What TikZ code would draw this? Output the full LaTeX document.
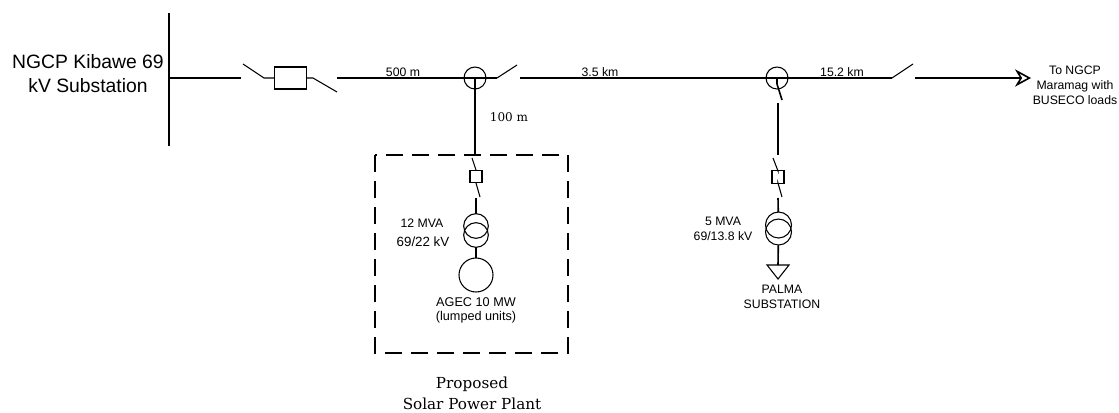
\documentclass[tikz,border=0pt]{standalone}
\usepackage{fontspec}
\setmainfont{Liberation Sans}
\newfontfamily\plantfont{DejaVu Serif}
\usetikzlibrary{arrows.meta}
\begin{document}
\begin{tikzpicture}[x=0.75pt,y=-0.75pt,line width=0.8pt,
      every node/.style={inner sep=0pt,outer sep=0pt,align=center,font=\fontsize{9.2}{11}\selectfont},
      >={Stealth[open,width=13pt,length=12pt]},
      feeder/.style={line width=1.2pt},
      junction/.style={circle,draw,minimum size=16.5pt},
      breaker/.style={rectangle,draw,minimum width=9pt,minimum height=9.5pt},
      winding/.style={circle,draw,minimum size=18.5pt},
      biglabel/.style={font=\fontsize{14.5}{18}\selectfont},
      seriflabel/.style={font=\plantfont\fontsize{11.4}{15.8}\selectfont}]
  \useasboundingbox(0,0)rectangle(1119,412);
  % points along the feeder
  \foreach \x/\y/\name in {169/13/busT,169/146/busB,169/78/busTap,241/78/lineAend,
      243/64/swAopen,264/78/swAhinge,313/78/swBhinge,337/92/swBopen,337/78/lineBstart,
      497/78/swChinge,517/65/swCopen,520/78/lineCstart,892/78/swDhinge,913/64/swDopen,
      915/78/arrowStart,1031/78/arrowEnd,
      475/155/stubAend,472/158/swEopen,476/170/swEhinge,476/183/swFhinge,480/197/swFopen,
      476/198/trfAin,476/245/trfAout,
      777/84/stubBend,782/100/swGopen,778/103/lineGstart,778/155/lineGend,
      773/158/swHopen,778/171/swHhinge,778/183/swIhinge,782/197/swIopen,
      778/198/trfBin,778/245/trfBout,778/265/loadIn,
      375/155/plantNW,568/353/plantSE}
    \coordinate(\name)at(\x,\y);
  % main bus and feeder
  \draw[line width=1.1pt](busT)--(busB);
  \node[rectangle,draw,minimum width=23.5pt,minimum height=16.5pt](fuseA)at(290.5,78){};
  \node[junction](tapA)at(475,78){};
  \node[junction](tapB)at(777,78){};
  \draw[feeder](busTap)--(lineAend);
  \draw(swAopen)--(swAhinge)--(fuseA);
  \draw(fuseA)--(swBhinge)--(swBopen);
  \draw[feeder](lineBstart)--(tapA.center)--(swChinge);
  \draw(swChinge)--(swCopen);
  \draw[feeder](lineCstart)--(tapB.center)--(swDhinge);
  \draw(swDhinge)--(swDopen);
  \draw[feeder,->](arrowStart)--(arrowEnd);
  % solar plant branch
  \node[breaker](brkA)at(476,176.5){};
  \node[winding](trfAhi)at(476,226){};
  \node[winding](trfAlo)at(476,235){};
  \node[circle,draw,minimum size=25.5pt](genA)at(476,275){};
  \draw[feeder](tapA.center)--(stubAend);
  \draw(swEopen)--(swEhinge)--(brkA);
  \draw(brkA)--(swFhinge)--(swFopen);
  \draw[feeder](trfAin)--(trfAhi);
  \draw[feeder](trfAlo)--(genA);
  \draw[line width=1.9pt,dash pattern=on 12.5pt off 7pt](plantNW)rectangle(plantSE);
  % palma branch
  \node[breaker](brkB)at(778,177){};
  \node[winding,minimum size=19.5pt](trfBhi)at(778.5,225){};
  \node[winding,minimum size=19.5pt](trfBlo)at(778.5,232){};
  \draw[feeder](tapB.center)--(stubBend)--(swGopen);
  \draw[feeder](lineGstart)--(lineGend);
  \draw(swHopen)--(swHhinge)--(brkB);
  \draw(brkB)--(swIhinge)--(swIopen);
  \draw[feeder](trfBin)--(trfBhi);
  \draw[feeder](trfBlo)--(loadIn);
  \draw(767,265)--(789,265)--(778,279)--cycle;
  % labels
  \node[biglabel](busName)at(88,74){NGCP Kibawe 69\\kV Substation};
  \node(lenA)at(403,72){500 m};
  \node(lenB)at(600,72){3.5 km};
  \node(lenC)at(842,72){15.2 km};
  \node[font=\plantfont\fontsize{9}{11}\selectfont](lenD)at(509,117){100 m};
  \node[font=\fontsize{9.2}{11.3}\selectfont](toNgcp)at(1075,85){To NGCP\\Maramag with\\BUSECO loads};
  \node(mvaA)at(422,223){12 MVA};
  \node[font=\fontsize{10}{12}\selectfont](kvA)at(423,242){69/22 kV};
  \node[font=\fontsize{9.5}{10.5}\selectfont](genLabel)at(476,310){AGEC 10 MW\\(lumped units)};
  \node(mvaB)at(723,221){5 MVA};
  \node(kvB)at(723,236){69/13.8 kV};
  \node(palmaLabel)at(782,296.5){PALMA\\SUBSTATION};
  \node[seriflabel](plantLabel)at(472,393.5){Proposed\\Solar Power Plant};
\end{tikzpicture}
\end{document}
